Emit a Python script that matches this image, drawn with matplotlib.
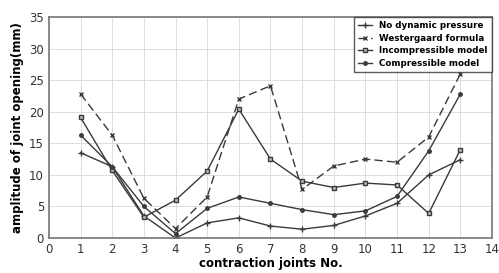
#!/usr/bin/env python3

import matplotlib
matplotlib.use("Agg")
import matplotlib.pyplot as plt

joints = [1, 2, 3, 4, 5, 6, 7, 8, 9, 10, 11, 12, 13]

no_dynamic = [13.5, 11.3, 3.5, 0.0, 2.4, 3.2, 1.9, 1.4, 2.0, 3.5, 5.5, 10.0, 12.4]
westergaard = [22.8, 16.3, 6.3, 1.5, 6.5, 22.0, 24.1, 7.7, 11.4, 12.5, 12.0, 16.0, 26.0]
incompressible = [19.1, 10.7, 3.3, 6.0, 10.6, 20.4, 12.5, 9.0, 8.0, 8.7, 8.4, 3.9, 14.0]
compressible = [16.3, 11.3, 5.0, 0.7, 4.7, 6.5, 5.5, 4.5, 3.7, 4.3, 6.6, 13.8, 22.8]

c = "#3a3a3a"

fig = plt.figure(figsize=(4.99, 2.73), dpi=100)
ax = fig.add_axes([0.098, 0.128, 0.888, 0.81])

ax.plot(joints, no_dynamic, "-", color=c, lw=1.0, marker="+", ms=4, label="No dynamic pressure")
ax.plot(joints, westergaard, "--", color=c, lw=1.0, marker="x", ms=3, dashes=(6, 3), label="Westergaard formula")
ax.plot(joints, incompressible, "-", color=c, lw=1.0, marker="s", ms=3.5, mfc="#bbbbbb", mec=c, label="Incompressible model")
ax.plot(joints, compressible, "-", color=c, lw=1.0, marker="o", ms=2.5, label="Compressible model")

ax.set_xlim(0, 14)
ax.set_ylim(0, 35)
ax.set_xticks(range(0, 15))
ax.set_yticks(range(0, 36, 5))
ax.tick_params(labelsize=8.5, length=0, colors="#333333")
ax.grid(True, color="#dddddd", lw=0.7)
for s in ax.spines.values():
    s.set_color("#777777")
    s.set_linewidth(1.2)

ax.set_xlabel("contraction joints No.", fontsize=8.5, fontweight="bold", labelpad=1)
ax.set_ylabel("amplitude of joint opening(mm)", fontsize=8.5, fontweight="bold", labelpad=4)

leg = ax.legend(loc="upper right", prop={"weight": "bold", "size": 6.3},
                frameon=True, fancybox=False, edgecolor="#333333",
                borderaxespad=0.0, handlelength=1.6, labelspacing=0.4,
                borderpad=0.5)
leg.get_frame().set_linewidth(1.0)

fig.savefig("out.png", dpi=100)
